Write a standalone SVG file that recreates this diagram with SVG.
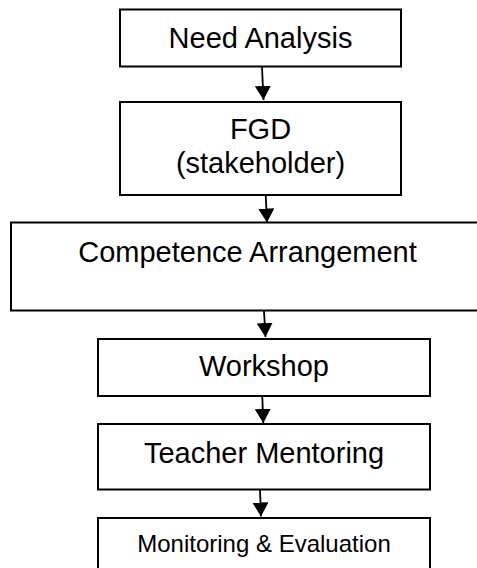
<svg xmlns="http://www.w3.org/2000/svg" width="477" height="568" viewBox="0 0 477 568">
<defs>
<style>
.box{fill:#fff;stroke:#000;stroke-width:2}
.lbl{font-family:"Liberation Sans",Arial,sans-serif;font-size:29px;fill:#000;text-anchor:middle}
.sm{font-size:24px}
.conn{stroke:#000;stroke-width:1.8;fill:none}
</style>
<marker id="ah" viewBox="0 0 14 16" refX="14" refY="8" markerWidth="14" markerHeight="16" markerUnits="userSpaceOnUse" orient="auto">
<path d="M0,0 L14,8 L0,16 z" fill="#000"/>
</marker>
</defs>
<rect width="477" height="568" fill="#fff"/>
<g id="n1"><rect class="box" x="120" y="9.5" width="281" height="57"/><text class="lbl" x="260.5" y="48.3">Need Analysis</text></g>
<g id="n2"><rect class="box" x="120" y="102" width="281" height="93"/><text class="lbl" x="260.5" y="139.3">FGD</text><text class="lbl" x="260.5" y="173.3">(stakeholder)</text></g>
<g id="n3"><rect class="box" x="11" y="222.5" width="480" height="88"/><text class="lbl" x="247.5" y="262.3">Competence Arrangement</text></g>
<g id="n4"><rect class="box" x="98" y="339" width="332" height="57"/><text class="lbl" x="264" y="376">Workshop</text></g>
<g id="n5"><rect class="box" x="98" y="424" width="332" height="65.5"/><text class="lbl" x="264" y="463.3">Teacher Mentoring</text></g>
<g id="n6"><rect class="box" x="98" y="518" width="332" height="80"/><text class="lbl sm" x="264" y="552.3">Monitoring &amp; Evaluation</text></g>
<g id="connectors">
<line class="conn" x1="262" y1="67" x2="263.5" y2="100" marker-end="url(#ah)"/>
<line class="conn" x1="265.7" y1="195" x2="267" y2="222.5" marker-end="url(#ah)"/>
<line class="conn" x1="264" y1="311" x2="265.5" y2="337" marker-end="url(#ah)"/>
<line class="conn" x1="262.3" y1="397" x2="263.3" y2="423" marker-end="url(#ah)"/>
<line class="conn" x1="260" y1="490" x2="261" y2="516.5" marker-end="url(#ah)"/>
</g>
</svg>
